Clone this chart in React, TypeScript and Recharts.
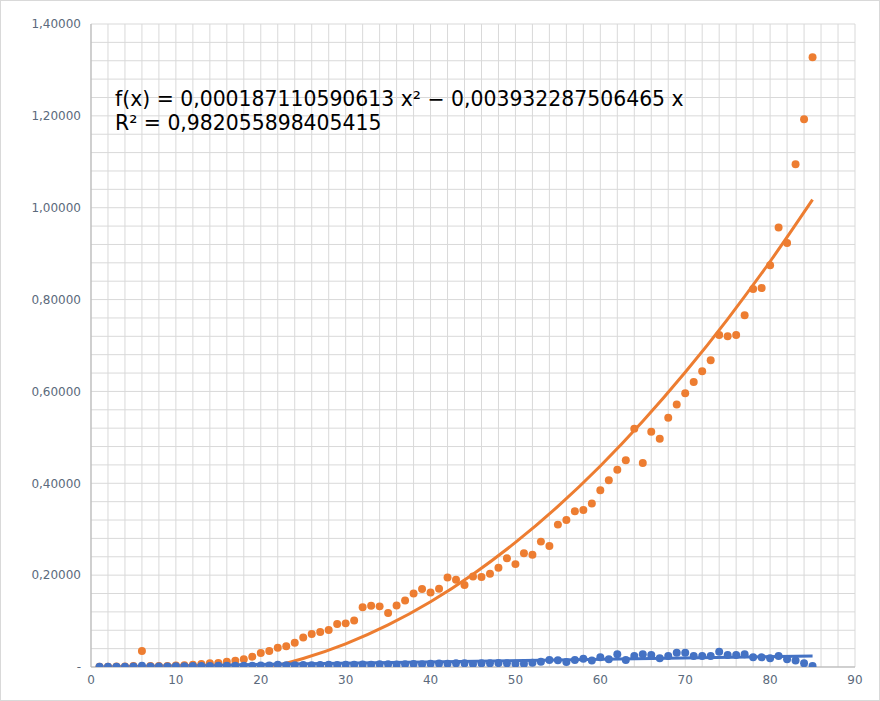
import {
  CartesianGrid,
  ComposedChart,
  Line,
  Scatter,
  XAxis,
  YAxis,
  ZAxis,
} from 'recharts';

// measured series, x = 1..85
const orangeValues = [
  0.0005, 0.0005, 0.001, 0.001, 0.002, 0.035, 0.002, 0.002, 0.002, 0.0035,
  0.004, 0.005, 0.0065, 0.008, 0.009, 0.0115, 0.0137, 0.0167, 0.0225, 0.0305,
  0.035, 0.042, 0.045, 0.053, 0.064, 0.072, 0.076, 0.0805, 0.0935, 0.095,
  0.101, 0.13, 0.1335, 0.132, 0.1176, 0.134, 0.145, 0.16, 0.17, 0.162,
  0.1705, 0.195, 0.19, 0.1785, 0.197, 0.196, 0.203, 0.216, 0.2366, 0.224,
  0.2475, 0.2445, 0.273, 0.2634, 0.31, 0.32, 0.339, 0.342, 0.356, 0.385,
  0.4065, 0.4296, 0.45, 0.519, 0.444, 0.512, 0.497, 0.5425, 0.5715, 0.596,
  0.6205, 0.644, 0.668, 0.723, 0.72, 0.723, 0.766, 0.823, 0.825, 0.8746,
  0.957, 0.923, 1.0945, 1.1925, 1.3275,
];

const blueValues = [
  0.0005, 0.0005, 0.0005, 0.0005, 0.001, 0.003, 0.001, 0.001, 0.001, 0.0015,
  0.0015, 0.002, 0.002, 0.002, 0.0025, 0.003, 0.0025, 0.003, 0.003, 0.0035,
  0.0035, 0.005, 0.004, 0.004, 0.0045, 0.004, 0.0045, 0.005, 0.0045, 0.005,
  0.005, 0.0055, 0.005, 0.006, 0.006, 0.0055, 0.006, 0.0065, 0.006, 0.007,
  0.0075, 0.007, 0.008, 0.008, 0.0065, 0.008, 0.008, 0.0085, 0.008, 0.007,
  0.007, 0.0094, 0.0116, 0.015, 0.0145, 0.011, 0.015, 0.018, 0.014, 0.021,
  0.017, 0.028, 0.015, 0.024, 0.028, 0.026, 0.019, 0.024, 0.031, 0.031,
  0.024, 0.024, 0.024, 0.033, 0.026, 0.026, 0.028, 0.021, 0.021, 0.019,
  0.024, 0.017, 0.014, 0.008, 0.002,
];

// trendlines
const orangeTrendX = [21, 23, 25, 30, 35, 40, 45, 50, 55, 60, 65, 70, 75, 80, 85];
const orangeTrendY = [
  0, 0.0085, 0.0186, 0.0504, 0.0916, 0.1421, 0.202, 0.2712, 0.3497, 0.4377,
  0.5349, 0.6416, 0.7576, 0.8829, 1.0176,
];
const blueTrendX = [1, 85];
const blueTrendY = [0, 0.024];

const xTicks = [0, 10, 20, 30, 40, 50, 60, 70, 80, 90];
const yTicks = [0, 0.2, 0.4, 0.6, 0.8, 1.0, 1.2, 1.4];

const equationText = 'f(x) = 0,000187110590613 x² − 0,003932287506465 x';
const r2Text = 'R² = 0,982055898405415';

const orangePoints = orangeValues.map((y, i) => ({ x: i + 1, y }));
const bluePoints = blueValues.map((y, i) => ({ x: i + 1, y }));
const orangeTrend = orangeTrendX.map((x, i) => ({ x, y: orangeTrendY[i] }));
const blueTrend = blueTrendX.map((x, i) => ({ x, y: blueTrendY[i] }));

// minor grid: every 2 on x, every 0.04 on y
const xGrid = Array.from({ length: 46 }, (_, i) => i * 2);
const yGrid = Array.from({ length: 36 }, (_, i) => Math.round(i * 4) / 100);

const ORANGE = '#ed7d31';
const BLUE = '#4472c4';
const GRID = '#d9d9d9';
const LABEL = '#5b6a7c';

const fmtY = (v: number) => (v === 0 ? '-' : v.toFixed(5).replace('.', ','));

export default function App() {
  return (
    <div
      style={{
        position: 'absolute',
        left: 0,
        top: 0,
        width: 880,
        height: 701,
        boxSizing: 'border-box',
        border: '1px solid #d9d9d9',
        background: '#fff',
        fontFamily: '"DejaVu Sans", sans-serif',
      }}
    >
      <div style={{ position: 'absolute', left: -1, top: -1 }}>
        <ComposedChart
          width={880}
          height={701}
          margin={{ top: 24, right: 25, left: 0, bottom: 0 }}
        >
          <CartesianGrid
            stroke={GRID}
            horizontalValues={yGrid}
            verticalValues={xGrid}
          />
          <XAxis
            type="number"
            dataKey="x"
            domain={[0, 90]}
            ticks={xTicks}
            interval={0}
            height={34}
            stroke="#b3b3b3"
            tickLine={false}
            tick={{ fill: LABEL, fontSize: 12 }}
          />
          <YAxis
            type="number"
            dataKey="y"
            domain={[0, 1.4]}
            ticks={yTicks}
            interval={0}
            width={91}
            stroke="#b3b3b3"
            tickLine={false}
            tickMargin={4}
            allowDataOverflow
            tickFormatter={fmtY}
            tick={{ fill: LABEL, fontSize: 12 }}
          />
          <ZAxis range={[50, 50]} />
          <Scatter data={orangePoints} fill={ORANGE} isAnimationActive={false} />
          <Line
            data={orangeTrend}
            dataKey="y"
            type="monotone"
            stroke={ORANGE}
            strokeWidth={3}
            dot={false}
            isAnimationActive={false}
          />
          <Scatter data={bluePoints} fill={BLUE} isAnimationActive={false} />
          <Line
            data={blueTrend}
            dataKey="y"
            type="linear"
            stroke={BLUE}
            strokeWidth={3}
            dot={false}
            isAnimationActive={false}
          />
        </ComposedChart>
      </div>
      <div
        style={{
          position: 'absolute',
          left: 114,
          top: 86,
          fontSize: 20.4,
          lineHeight: '24px',
          color: '#000',
          whiteSpace: 'pre',
        }}
      >
        <div>{equationText}</div>
        <div>{r2Text}</div>
      </div>
    </div>
  );
}
